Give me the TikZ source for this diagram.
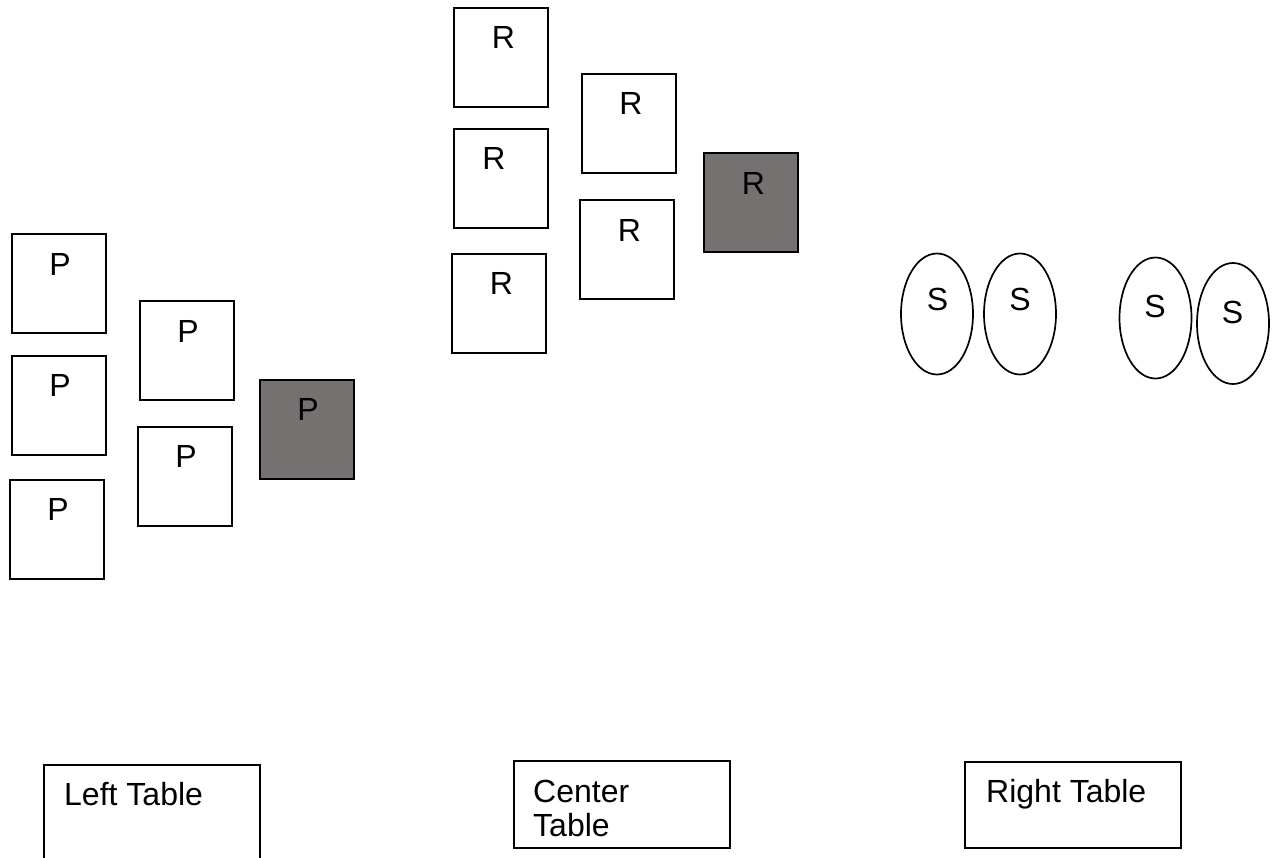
\documentclass[tikz,border=0pt]{standalone}
\usepackage{fontspec}
\setmainfont{Liberation Sans}
\usetikzlibrary{shapes.geometric}
\definecolor{seatgray}{RGB}{118,113,113}
\begin{document}
\begin{tikzpicture}[x=1pt,y=-1pt,
  seat/.style={draw=black,line width=1.7pt,rectangle,anchor=north west,inner sep=0pt,
    minimum width=94pt,minimum height=99pt,fill=white},
  darkseat/.style={seat,fill=seatgray},
  oval/.style={draw=black,line width=1.7pt,ellipse,inner sep=0pt,minimum width=72pt,minimum height=121pt},
  tablebox/.style={draw=black,line width=1.7pt,rectangle,anchor=north west,inner sep=0pt,
    minimum width=216pt},
  lbl/.style={anchor=base,inner sep=0pt,font=\fontsize{32}{34}\selectfont},
  tlbl/.style={anchor=base west,inner sep=0pt,font=\fontsize{32}{34}\selectfont,align=left}]
\clip (0,0) rectangle (1274,857);
\useasboundingbox (0,0) rectangle (1274,857);
% P group
\node[seat] (p1) at (11,233) {};
\node[seat] (p2) at (11,355) {};
\node[seat] (p3) at (9,479) {};
\node[seat] (p4) at (139,300) {};
\node[seat] (p5) at (137,426) {};
\node[darkseat] (p6) at (259,379) {};
\node[lbl] (p1t) at (60,275) {P};
\node[lbl] (p2t) at (60,396) {P};
\node[lbl] (p3t) at (58,520) {P};
\node[lbl] (p4t) at (188,342) {P};
\node[lbl] (p5t) at (186,467) {P};
\node[lbl] (p6t) at (308,420) {P};
% R group
\node[seat] (r1) at (453,7) {};
\node[seat] (r2) at (453,128) {};
\node[seat] (r3) at (451,253) {};
\node[seat] (r4) at (581,73) {};
\node[seat] (r5) at (579,199) {};
\node[darkseat] (r6) at (703,152) {};
\node[lbl] (r1t) at (503.5,48) {R};
\node[lbl] (r2t) at (494,169) {R};
\node[lbl] (r3t) at (501.5,294) {R};
\node[lbl] (r4t) at (631,114) {R};
\node[lbl] (r5t) at (629.5,241) {R};
\node[lbl] (r6t) at (753.5,194) {R};
% S group
\node[oval] (s1) at (937,314) {};
\node[oval] (s2) at (1020,314) {};
\node[oval] (s3) at (1155.5,318) {};
\node[oval] (s4) at (1233,323.5) {};
\node[lbl] (s1t) at (937.5,310) {S};
\node[lbl] (s2t) at (1020,310) {S};
\node[lbl] (s3t) at (1155,317) {S};
\node[lbl] (s4t) at (1232.5,323) {S};
% tables
\node[tablebox,minimum height=120pt] (lt) at (43,764) {};
\node[tablebox,minimum height=87pt] (ct) at (513,760) {};
\node[tablebox,minimum height=86pt] (rt) at (964,761) {};
\node[tlbl] (ltt) at (64,805) {Left Table};
\node[tlbl] (ctt) at (533,836) {Center\\Table};
\node[tlbl] (rtt) at (986,802) {Right Table};
\end{tikzpicture}
\end{document}
